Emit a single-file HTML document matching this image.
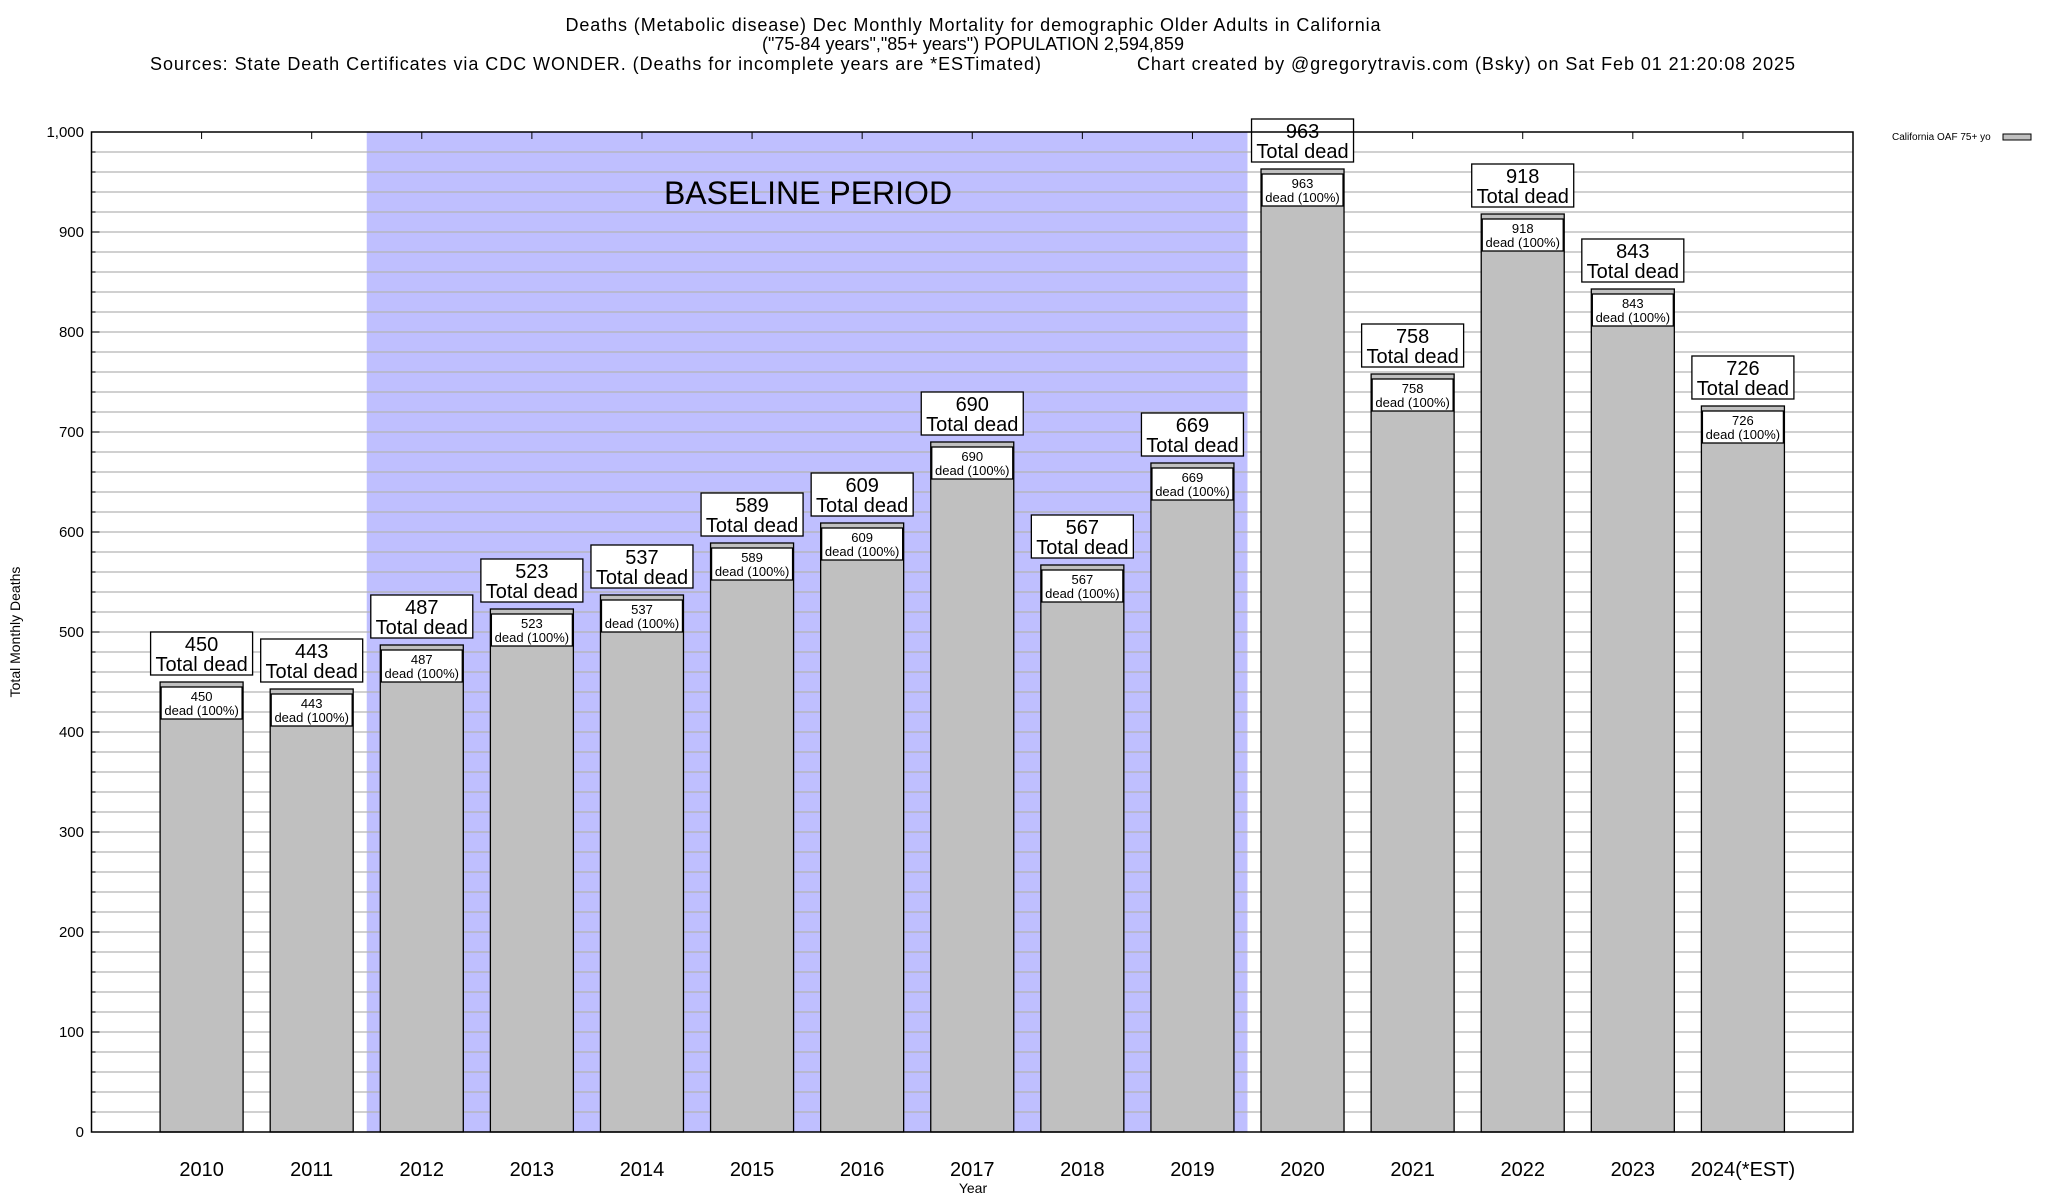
<!DOCTYPE html>
<html><head><meta charset="utf-8"><style>
html,body{margin:0;padding:0;background:#fff;}
svg{display:block;font-family:"Liberation Sans",Arial,sans-serif;}
</style></head><body>
<svg id="chart" width="2048" height="1200" viewBox="0 0 2048 1200" xmlns="http://www.w3.org/2000/svg">
<g>
<text x="973" y="31" font-size="18" text-anchor="middle" textLength="815">Deaths (Metabolic disease) Dec Monthly Mortality for demographic Older Adults in California</text>
<text x="973" y="50" font-size="18" text-anchor="middle">("75-84 years","85+ years") POPULATION 2,594,859</text>
<text x="150" y="70" font-size="18" textLength="891">Sources: State Death Certificates via CDC WONDER. (Deaths for incomplete years are *ESTimated)</text>
<text x="1137" y="70" font-size="18" textLength="658">Chart created by @gregorytravis.com (Bsky) on Sat Feb 01 21:20:08 2025</text>
</g>
<g id="plot"></g>
<text x="20" y="632" font-size="14" text-anchor="middle" transform="rotate(-90 20 632)">Total Monthly Deaths</text>
<text x="973" y="1193" font-size="14" text-anchor="middle">Year</text>
<g>
<text x="1892" y="140" font-size="10">California OAF 75+ yo</text>
<rect x="2003" y="134" width="28" height="6" fill="#c0c0c0" stroke="#000" stroke-width="1"/>
</g>
</svg>
<script>
const categories = ["2010","2011","2012","2013","2014","2015","2016","2017","2018","2019","2020","2021","2022","2023","2024(*EST)"];
const deaths = [450,443,487,523,537,589,609,690,567,669,963,758,918,843,726];
const yTicks = [0,100,200,300,400,500,600,700,800,900,1000];
const yTickLabels = ["0","100","200","300","400","500","600","700","800","900","1,000"];
const baselineRange = ["2012","2019"];

const NS = "http://www.w3.org/2000/svg";
const L = 91.5, R = 1853, T = 132, B = 1132, YMAX = 1000;
const step = (R - L) / (categories.length + 1);
const xPos = i => L + (i + 1) * step;
const yPos = v => B - (v / YMAX) * (B - T);
const plot = document.getElementById('plot');
function mk(tag, attrs, parent) {
  const e = document.createElementNS(NS, tag);
  for (const k in attrs) e.setAttribute(k, attrs[k]);
  (parent || plot).appendChild(e);
  return e;
}
const bi0 = categories.indexOf(baselineRange[0]), bi1 = categories.indexOf(baselineRange[1]);
const shade = mk('rect', {x: xPos(bi0) - step/2, y: T, width: (bi1 - bi0 + 1) * step, height: B - T, fill: '#bfbfff'});


for (let v = 20; v < YMAX; v += 20) {
  const g = mk('line', {x1: L, x2: R, y1: yPos(v), y2: yPos(v), stroke: '#b4b4b4', 'stroke-width': 1.2});
  
  
  const tk = mk('line', {x1: L, x2: L + (v % 100 === 0 ? 8 : 4), y1: yPos(v), y2: yPos(v), stroke: '#000'});
  
  
}
const bl = mk('text', {x: 808, y: 204, 'font-size': 32, 'text-anchor': 'middle'});
bl.textContent = 'BASELINE PERIOD';


yTicks.forEach((v, i) => {
  const t = mk('text', {x: 84, y: yPos(v) + 5, 'font-size': 15, 'text-anchor': 'end'});
  t.textContent = yTickLabels[i];
  
  
});
const bw = 83;
deaths.forEach((v, i) => {
  const cx = xPos(i), top = yPos(v);
  const tk = mk('line', {x1: cx, x2: cx, y1: T, y2: T + 7, stroke: '#000'});
  
  
  const bar = mk('rect', {x: cx - bw/2, y: top, width: bw, height: B - top, fill: '#c0c0c0', stroke: '#000', 'stroke-width': 1.3});
  
  
  const ib = mk('rect', {x: cx - bw/2 + 1, y: top + 5, width: bw - 2, height: 32, fill: '#fff', stroke: '#000', 'stroke-width': 1.3});
  
  
  const t1 = mk('text', {x: cx, y: top + 19, 'font-size': 13, 'text-anchor': 'middle'});
  t1.textContent = v;
  
  
  const t2 = mk('text', {x: cx, y: top + 33, 'font-size': 13, 'text-anchor': 'middle'});
  t2.textContent = 'dead (100%)';
  
  
  const ob = mk('rect', {x: cx - 51, y: top - 50, width: 102, height: 43, fill: '#fff', stroke: '#000', 'stroke-width': 1.3});
  
  
  const o1 = mk('text', {x: cx, y: top - 31, 'font-size': 20, 'text-anchor': 'middle'});
  o1.textContent = v;
  
  
  const o2 = mk('text', {x: cx, y: top - 11, 'font-size': 20, 'text-anchor': 'middle'});
  o2.textContent = 'Total dead';
  
  
  const xl = mk('text', {x: cx, y: 1176, 'font-size': 20, 'text-anchor': 'middle'});
  xl.textContent = categories[i];
  
  
});
const frame = mk('rect', {x: L, y: T, width: R - L, height: B - T, fill: 'none', stroke: '#000', 'stroke-width': 1.5});


</script>
</body></html>
